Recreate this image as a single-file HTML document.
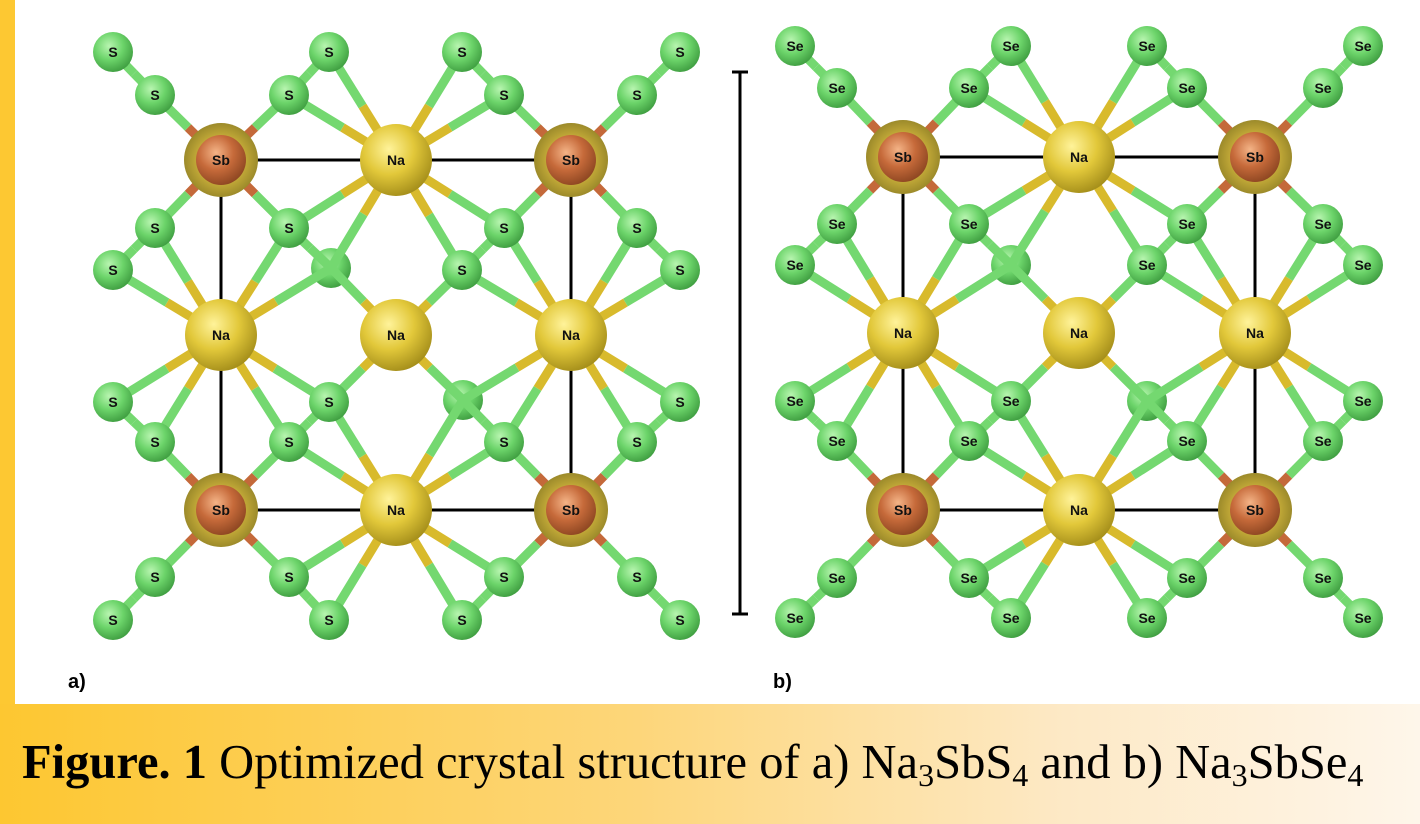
<!DOCTYPE html>
<html><head><meta charset="utf-8"><style>
html,body{margin:0;padding:0;}
body{width:1420px;height:824px;position:relative;overflow:hidden;background:#fdc832;}
#panel{position:absolute;left:15px;top:0;width:1405px;height:704px;background:#fff;}
#cap{position:absolute;left:0;top:704px;width:1420px;height:120px;background:linear-gradient(90deg,#fdc731 0%,#fdd67a 45%,#fde9c6 75%,#fef6ea 100%);overflow:hidden;}
#captxt{position:absolute;left:22px;top:35px;font-family:"Liberation Serif",serif;font-size:48.5px;line-height:1;color:#000;white-space:nowrap;}
#captxt sub{font-size:32px;vertical-align:-8px;line-height:0;}
svg{position:absolute;left:0;top:0;}
.lb{font-family:"Liberation Sans",sans-serif;font-weight:bold;font-size:14px;text-anchor:middle;dominant-baseline:central;fill:#111;}
.pl{font-family:"Liberation Sans",sans-serif;font-weight:bold;font-size:20px;fill:#000;}
</style></head><body>
<div id="panel"></div>
<div id="cap"><div id="captxt"><b>Figure. 1</b> Optimized crystal structure of a) Na<sub>3</sub>SbS<sub>4</sub> and b) Na<sub>3</sub>SbSe<sub>4</sub></div></div>
<svg id="s" width="1420" height="704" viewBox="0 0 1420 704">
<defs>
<radialGradient id="gS" cx="0.4" cy="0.35" r="0.7"><stop offset="0" stop-color="#b8f5b0"/><stop offset="0.5" stop-color="#6cd46a"/><stop offset="1" stop-color="#3c9a3e"/></radialGradient>
<radialGradient id="gNa" cx="0.4" cy="0.35" r="0.7"><stop offset="0" stop-color="#fff39a"/><stop offset="0.5" stop-color="#e2c83a"/><stop offset="1" stop-color="#a08a18"/></radialGradient>
<radialGradient id="gSb" cx="0.4" cy="0.35" r="0.7"><stop offset="0" stop-color="#f4b487"/><stop offset="0.5" stop-color="#c66a3a"/><stop offset="1" stop-color="#8a4420"/></radialGradient>
<radialGradient id="gH" cx="0.5" cy="0.5" r="0.5"><stop offset="0.6" stop-color="#c8ae3a"/><stop offset="1" stop-color="#9c8a2a"/></radialGradient>
</defs>
<g id="hid"></g>
<g id="bonds"></g>
<g id="cell" stroke="#000" stroke-width="3">
<line x1="221" y1="160" x2="571" y2="160"/><line x1="221" y1="510" x2="571" y2="510"/>
<line x1="221" y1="160" x2="221" y2="510"/><line x1="571" y1="160" x2="571" y2="510"/>
<line x1="903" y1="157" x2="1255" y2="157"/><line x1="903" y1="510" x2="1255" y2="510"/>
<line x1="903" y1="157" x2="903" y2="510"/><line x1="1255" y1="157" x2="1255" y2="510"/>
<line x1="740" y1="72" x2="740" y2="614"/><line x1="732" y1="72" x2="748" y2="72"/><line x1="732" y1="614" x2="748" y2="614"/>
</g>
<g id="atoms"></g>
<g id="labels">
<text class="lb" x="221" y="160">Sb</text><text class="lb" x="571" y="160">Sb</text><text class="lb" x="221" y="510">Sb</text><text class="lb" x="571" y="510">Sb</text>
<text class="lb" x="396" y="160">Na</text><text class="lb" x="221" y="335">Na</text><text class="lb" x="396" y="335">Na</text><text class="lb" x="571" y="335">Na</text><text class="lb" x="396" y="510">Na</text>
<text class="lb" x="113" y="52">S</text><text class="lb" x="329" y="52">S</text><text class="lb" x="462" y="52">S</text><text class="lb" x="680" y="52">S</text>
<text class="lb" x="155" y="95">S</text><text class="lb" x="289" y="95">S</text><text class="lb" x="504" y="95">S</text><text class="lb" x="637" y="95">S</text>
<text class="lb" x="155" y="228">S</text><text class="lb" x="289" y="228">S</text><text class="lb" x="504" y="228">S</text><text class="lb" x="637" y="228">S</text>
<text class="lb" x="113" y="270">S</text><text class="lb" x="462" y="270">S</text><text class="lb" x="680" y="270">S</text>
<text class="lb" x="113" y="402">S</text><text class="lb" x="329" y="402">S</text><text class="lb" x="680" y="402">S</text>
<text class="lb" x="155" y="442">S</text><text class="lb" x="289" y="442">S</text><text class="lb" x="504" y="442">S</text><text class="lb" x="637" y="442">S</text>
<text class="lb" x="155" y="577">S</text><text class="lb" x="289" y="577">S</text><text class="lb" x="504" y="577">S</text><text class="lb" x="637" y="577">S</text>
<text class="lb" x="113" y="620">S</text><text class="lb" x="329" y="620">S</text><text class="lb" x="462" y="620">S</text><text class="lb" x="680" y="620">S</text>
<text class="lb" x="903" y="157">Sb</text><text class="lb" x="1255" y="157">Sb</text><text class="lb" x="903" y="510">Sb</text><text class="lb" x="1255" y="510">Sb</text>
<text class="lb" x="1079" y="157">Na</text><text class="lb" x="903" y="333">Na</text><text class="lb" x="1079" y="333">Na</text><text class="lb" x="1255" y="333">Na</text><text class="lb" x="1079" y="510">Na</text>
<text class="lb" x="795" y="46">Se</text><text class="lb" x="1011" y="46">Se</text><text class="lb" x="1147" y="46">Se</text><text class="lb" x="1363" y="46">Se</text>
<text class="lb" x="837" y="88">Se</text><text class="lb" x="969" y="88">Se</text><text class="lb" x="1187" y="88">Se</text><text class="lb" x="1323" y="88">Se</text>
<text class="lb" x="837" y="224">Se</text><text class="lb" x="969" y="224">Se</text><text class="lb" x="1187" y="224">Se</text><text class="lb" x="1323" y="224">Se</text>
<text class="lb" x="795" y="265">Se</text><text class="lb" x="1147" y="265">Se</text><text class="lb" x="1363" y="265">Se</text>
<text class="lb" x="795" y="401">Se</text><text class="lb" x="1011" y="401">Se</text><text class="lb" x="1363" y="401">Se</text>
<text class="lb" x="837" y="441">Se</text><text class="lb" x="969" y="441">Se</text><text class="lb" x="1187" y="441">Se</text><text class="lb" x="1323" y="441">Se</text>
<text class="lb" x="837" y="578">Se</text><text class="lb" x="969" y="578">Se</text><text class="lb" x="1187" y="578">Se</text><text class="lb" x="1323" y="578">Se</text>
<text class="lb" x="795" y="618">Se</text><text class="lb" x="1011" y="618">Se</text><text class="lb" x="1147" y="618">Se</text><text class="lb" x="1363" y="618">Se</text>
<text class="pl" x="68" y="688">a)</text><text class="pl" x="773" y="688">b)</text>
</g>
</svg>
<script>
(function(){
var NS="http://www.w3.org/2000/svg";
function el(n,a,p){var e=document.createElementNS(NS,n);for(var k in a)e.setAttribute(k,a[k]);p.appendChild(e);return e;}
var hid=document.getElementById('hid'),bonds=document.getElementById('bonds'),atoms=document.getElementById('atoms');
var panels=[
 {sb:[[221,160],[571,160],[221,510],[571,510]],na:[[396,160],[221,335],[396,335],[571,335],[396,510]],
  x:[[113,52],[329,52],[462,52],[680,52],[155,95],[289,95],[504,95],[637,95],[155,228],[289,228],[504,228],[637,228],[113,270],[462,270],[680,270],[113,402],[329,402],[680,402],[155,442],[289,442],[504,442],[637,442],[155,577],[289,577],[504,577],[637,577],[113,620],[329,620],[462,620],[680,620]],
  h:[[331,268],[463,400]]},
 {sb:[[903,157],[1255,157],[903,510],[1255,510]],na:[[1079,157],[903,333],[1079,333],[1255,333],[1079,510]],
  x:[[795,46],[1011,46],[1147,46],[1363,46],[837,88],[969,88],[1187,88],[1323,88],[837,224],[969,224],[1187,224],[1323,224],[795,265],[1147,265],[1363,265],[795,401],[1011,401],[1363,401],[837,441],[969,441],[1187,441],[1323,441],[837,578],[969,578],[1187,578],[1323,578],[795,618],[1011,618],[1147,618],[1363,618]],
  h:[[1011,265],[1147,401]]}];
function d(a,b){return Math.hypot(a[0]-b[0],a[1]-b[1]);}
function bond(a,b,ca,cb){var m=[(a[0]+b[0])/2,(a[1]+b[1])/2];
 el('line',{x1:a[0],y1:a[1],x2:m[0],y2:m[1],stroke:ca,'stroke-width':9},bonds);
 el('line',{x1:m[0],y1:m[1],x2:b[0],y2:b[1],stroke:cb,'stroke-width':9},bonds);}
var G='#74d870',Y='#d8ba2c',B='#c4693a';
panels.forEach(function(p){
 var xs=p.x.concat(p.h);
 p.h.forEach(function(h){el('circle',{cx:h[0],cy:h[1],r:20,fill:'url(#gS)'},hid);});
 for(var i=0;i<xs.length;i++)for(var j=i+1;j<xs.length;j++){if(d(xs[i],xs[j])<72)bond(xs[i],xs[j],G,G);}
 p.sb.forEach(function(s){xs.forEach(function(x){if(d(s,x)<110)bond(s,x,B,G);});});
 p.na.forEach(function(n){xs.forEach(function(x){var q=d(n,x);if(q<135&&q>60)bond(n,x,Y,G);});});
 p.x.forEach(function(x){el('circle',{cx:x[0],cy:x[1],r:20,fill:'url(#gS)'},atoms);});
 p.na.forEach(function(n){el('circle',{cx:n[0],cy:n[1],r:36,fill:'url(#gNa)'},atoms);});
 p.sb.forEach(function(s){el('circle',{cx:s[0],cy:s[1],r:37,fill:'url(#gH)'},atoms);el('circle',{cx:s[0],cy:s[1],r:25,fill:'url(#gSb)'},atoms);});
});
})();
</script>
</body></html>
